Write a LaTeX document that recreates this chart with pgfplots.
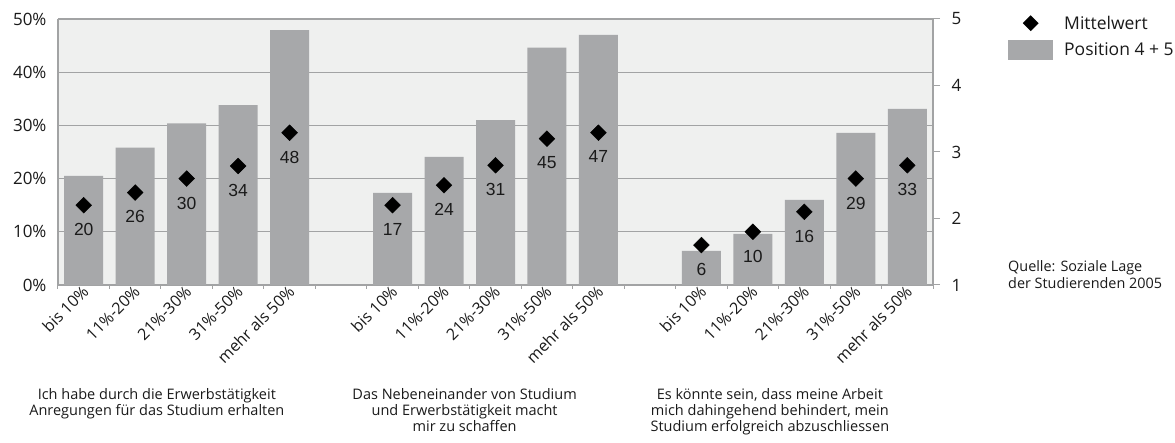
\documentclass[border=0pt]{standalone}
\usepackage{fontspec}
\setmainfont{Open Sans}
\newfontfamily\arialfont{Liberation Sans}
\usepackage{pgfplots}
\pgfplotsset{compat=1.18}
\usepackage{pgfplotstable}
\definecolor{bgc}{HTML}{EFF0EF}
\definecolor{barc}{HTML}{A7A8AA}
\definecolor{gridc}{HTML}{A2A3A4}
\definecolor{txt}{HTML}{1A1A1A}
\pgfplotsset{
  meanlegend/.style={legend image code/.code={\path[draw=none,fill=none] (0pt,-10pt) rectangle (45pt,10pt); \fill[black, draw=none, rotate around={45:(22.5pt,0pt)}] (16.9pt,-5.6pt) rectangle (28.1pt,5.6pt);}},
  barlegend/.style={legend image code/.code={\fill[barc, draw=none] (0pt,-10pt) rectangle (45pt,10pt);}},
}
\pgfplotstableread{
x pct mean lab
0 20.5 2.2 20
1 25.8 2.39 26
2 30.4 2.6 30
3 33.8 2.79 34
4 47.9 3.29 48
6 17.3 2.2 17
7 24.1 2.5 24
8 31.0 2.8 31
9 44.6 3.2 45
10 47.0 3.29 47
12 6.4 1.6 6
13 9.6 1.8 10
14 16.0 2.1 16
15 28.6 2.6 29
16 33.1 2.8 33
}\datatab
\begin{document}
\begin{tikzpicture}
\useasboundingbox (0,0) rectangle (1175pt,443pt);
\begin{axis}[
  at={(58pt,158pt)}, anchor=south west,
  scale only axis, width=875pt, height=266pt,
  xmin=-0.5, xmax=16.5, ymin=0, ymax=50,
  axis background/.style={fill=bgc},
  axis x line*=bottom, axis y line*=left,
  axis line style={gridc, line width=1.3pt, -},
  ymajorgrids, grid style={gridc, line width=1.3pt},
  ytick={0,10,...,50},
  yticklabel={\pgfmathprintnumber{\tick}\%},
  /pgf/number format/assume math mode=true,
  ytick style={draw=none},
  yticklabel style={font=\fontsize{17}{17}\selectfont, color=txt, xshift=-8pt},
  xtick={0,1,2,3,4,6,7,8,9,10,12,13,14,15,16},
  xticklabels={bis 10\%,11\%-20\%,21\%-30\%,31\%-50\%,mehr als 50\%,
               bis 10\%,11\%-20\%,21\%-30\%,31\%-50\%,mehr als 50\%,
               bis 10\%,11\%-20\%,21\%-30\%,31\%-50\%,mehr als 50\%},
  minor xtick={-0.5,0.5,...,16.5},
  major tick length=0pt, minor tick length=4pt,
  tick align=outside,
  xtick style={gridc, line width=1pt},
  xticklabel style={rotate=45, anchor=east, font=\fontsize{16}{16}\selectfont, color=txt, xshift=2pt, yshift=-4pt},
  clip=false,
]
\addplot[ybar, bar width=39pt, fill=barc, draw=none] table[x=x, y=pct] {\datatab};
\node[anchor=north, align=center, font=\fontsize{14.5}{15.8}\selectfont, color=txt] at (axis cs:1.42,0) [yshift=-100pt] {Ich habe durch die Erwerbstätigkeit\\Anregungen für das Studium erhalten};
\node[anchor=north, align=center, font=\fontsize{14.5}{15.8}\selectfont, color=txt] at (axis cs:7.40,0) [yshift=-100pt] {Das Nebeneinander von Studium\\und Erwerbstätigkeit macht\\mir zu schaffen};
\node[anchor=north, align=center, font=\fontsize{14.5}{15.8}\selectfont, color=txt] at (axis cs:13.33,0) [yshift=-100pt] {Es könnte sein, dass meine Arbeit\\mich dahingehend behindert, mein\\Studium erfolgreich abzuschliessen};
\end{axis}
\begin{axis}[
  at={(58pt,158pt)}, anchor=south west,
  scale only axis, width=875pt, height=266pt,
  xmin=-0.5, xmax=16.5, ymin=1, ymax=5,
  axis x line=none, axis y line*=right,
  axis line style={gridc, line width=1.3pt, -},
  ytick={1,2,3,4,5},
  /pgf/number format/assume math mode=true,
  tick align=outside, major tick length=7pt,
  ytick style={gridc, line width=1pt},
  yticklabel style={font=\fontsize{17}{17}\selectfont, color=txt, xshift=8pt},
  clip=false,
  legend style={draw=none, fill=none, at={(1.08571,1.0226)}, anchor=north west,
    inner sep=0pt, nodes={inner sep=0pt}, row sep=7pt, column sep=11pt,
    font=\fontsize{17.5}{17.5}\selectfont, text=txt},
  legend cell align=left,
]
\addplot[only marks, mark=square*, mark size=5.6pt, mark options={rotate=45, fill=black, draw=black},
  point meta=explicit symbolic, nodes near coords,
  nodes near coords style={anchor=north, yshift=-18pt, inner sep=0pt, font=\arialfont\fontsize{17.5}{17.5}\selectfont, text=txt},
  meanlegend
  ] table[x=x, y=mean, meta=lab] {\datatab};
\addlegendentry{Mittelwert}
\addlegendimage{barlegend}
\addlegendentry{Position 4 + 5}
\node[anchor=base west, inner sep=0pt, font=\fontsize{14.4}{14.4}\selectfont, color=txt] at (rel axis cs:1.0857,0.0489) {Quelle: Soziale Lage};
\node[anchor=base west, inner sep=0pt, font=\fontsize{14.4}{14.4}\selectfont, color=txt] at (rel axis cs:1.0857,-0.015) {der Studierenden 2005};
\end{axis}
\end{tikzpicture}
\end{document}
